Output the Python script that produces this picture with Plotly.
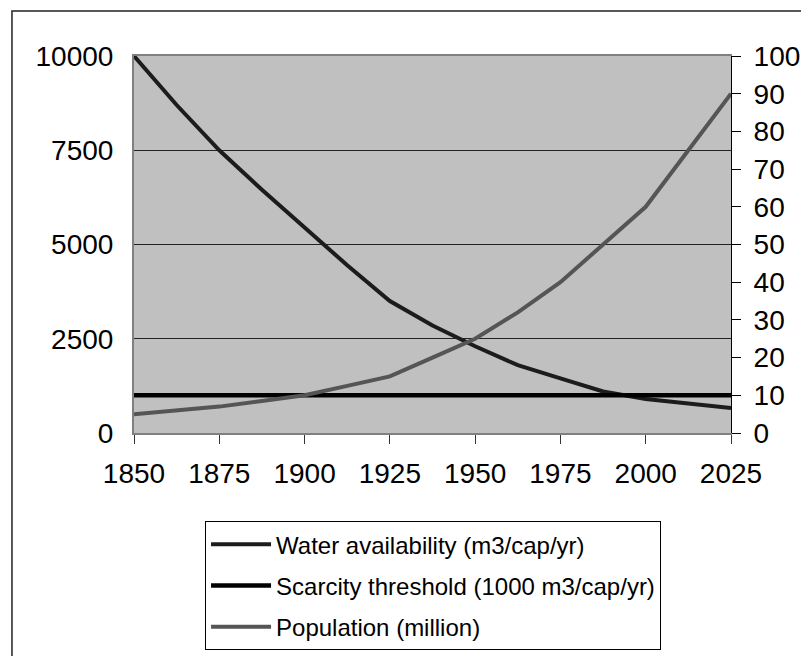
import plotly.graph_objects as go

years = [1850, 1862.5, 1875, 1887.5, 1900, 1912.5, 1925, 1937.5,
         1950, 1962.5, 1975, 1987.5, 2000, 2012.5, 2025]
water = [10000, 8700, 7500, 6450, 5450, 4450, 3500, 2850,
         2300, 1800, 1450, 1100, 900, 780, 660]
threshold = [1000] * len(years)
population = [5, 6, 7, 8.5, 10, 12.5, 15, 20,
              25, 32, 40, 50, 60, 75, 90]

x_ticks = [1850, 1875, 1900, 1925, 1950, 1975, 2000, 2025]

FONT = "Liberation Sans, Arial, sans-serif"

fig = go.Figure()
fig.add_trace(go.Scatter(
    x=years, y=water, name="Water availability (m3/cap/yr)",
    mode="lines", line=dict(color="#1c1c1c", width=4),
    legendgroup="a"
))
fig.add_trace(go.Scatter(
    x=years, y=threshold, name="Scarcity threshold (1000 m3/cap/yr)",
    mode="lines", line=dict(color="#000000", width=4.5),
    legendgroup="b"
))
fig.add_trace(go.Scatter(
    x=years, y=population, name="Population (million)",
    mode="lines", line=dict(color="#555555", width=4),
    yaxis="y2", legendgroup="c"
))

# page body has an 8px margin, so the figure is drawn 8px smaller
fig.update_layout(
    width=801, height=648,
    margin=dict(l=126, r=78, t=48, b=223),
    paper_bgcolor="white",
    plot_bgcolor="#c0c0c0",
    font=dict(family=FONT, color="black"),
    showlegend=True,
    xaxis=dict(
        range=[1850, 2025], tickvals=x_ticks, tickformat="d",
        showgrid=False, zeroline=False, automargin=False,
        showline=True, linecolor="#808080", linewidth=2, mirror=True,
        ticks="outside", ticklen=9, tickcolor="#333333", tickwidth=1,
        tickfont=dict(size=28), ticklabelstandoff=5
    ),
    yaxis=dict(
        range=[0, 10000], dtick=2500, tickformat="d",
        showgrid=True, gridcolor="#222222", gridwidth=1,
        zeroline=False, automargin=False,
        showline=True, linecolor="#808080", linewidth=2,
        ticks="", tickfont=dict(size=28), ticklabelstandoff=13
    ),
    yaxis2=dict(
        range=[0, 100], dtick=10, overlaying="y", side="right",
        showgrid=False, zeroline=False, automargin=False,
        showline=True, linecolor="#000000", linewidth=1,
        ticks="outside", ticklen=9, tickcolor="#000000",
        tickfont=dict(size=28), ticklabelstandoff=7
    ),
    yaxis3=dict(
        range=[0, 100], dtick=10, overlaying="y", side="right",
        anchor="x", showgrid=False, zeroline=False, showline=False,
        automargin=False,
        ticks="inside", ticklen=8, tickcolor="#000000",
        showticklabels=False
    ),
    legend=dict(
        x=0.119, y=0.009, xanchor="left", yanchor="bottom",
        yref="container",
        bgcolor="white", bordercolor="#000000", borderwidth=1,
        font=dict(size=24, family=FONT),
        tracegroupgap=7, itemwidth=60
    ),
    shapes=[dict(
        type="rect", xref="paper", yref="paper",
        x0=-0.2044, x1=1.2, y0=-1.0, y1=1.1194,
        line=dict(color="#222222", width=1.5)
    )]
)

fig.write_html("out.html")
